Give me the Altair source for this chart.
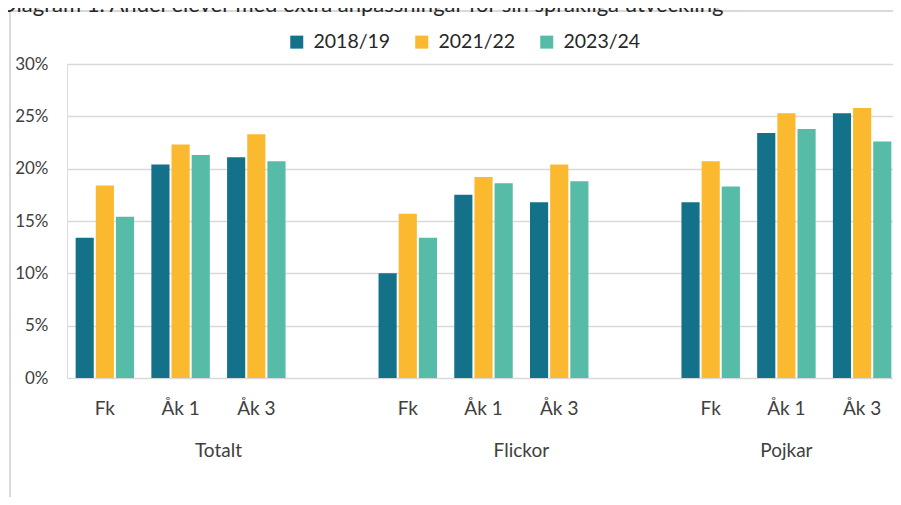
import altair as alt
import pandas as pd

# ---- data ----
title_text = "Diagram 1. Andel elever med extra anpassningar för sin språkliga utveckling"
groups = ["Totalt", "Flickor", "Pojkar"]
group_spacer = [True, True, False]          # empty category after the group
grades = ["Fk", "Åk 1", "Åk 3"]
series = ["2018/19", "2021/22", "2023/24"]
colors = ["#13728A", "#FBB92F", "#57BCA7"]

# percent, order: Totalt(Fk, Åk1, Åk3), Flickor(...), Pojkar(...)
values_2018_19 = [13.4, 20.4, 21.1, 10.0, 17.5, 16.8, 16.8, 23.4, 25.3]
values_2021_22 = [18.4, 22.3, 23.3, 15.7, 19.2, 20.4, 20.7, 25.3, 25.8]
values_2023_24 = [15.4, 21.3, 20.7, 13.4, 18.6, 18.8, 18.3, 23.8, 22.6]
y_ticks = [0, 0.05, 0.10, 0.15, 0.20, 0.25, 0.30]

# ---- build tables ----
domain = []
centers = []
for g, sp in zip(groups, group_spacer):
    start = len(domain)
    for s in grades:
        domain.append(f"{g}|{s}")
    if sp:
        domain.append(f"{g}|")
    n = len(grades) + (1 if sp else 0)
    centers.append(start + n / 2)

rows = []
for ser, vals in zip(series, [values_2018_19, values_2021_22, values_2023_24]):
    i = 0
    for g in groups:
        for s in grades:
            rows.append({"key": f"{g}|{s}", "series": ser, "value": vals[i] / 100})
            i += 1
df = pd.DataFrame(rows)
gdf = pd.DataFrame({"group": groups, "center": centers})
one = pd.DataFrame({"a": [0]})

FONT = "Lato"
TXT = "#404040"
W, H = 826, 314
XR = 833  # category range (last pixels run to the window edge)

bars = alt.Chart(df).mark_bar().encode(
    x=alt.X("key:N", sort=domain,
            scale=alt.Scale(domain=domain, range=[0, XR],
                            paddingInner=0.228, paddingOuter=0.114),
            axis=alt.Axis(title=None, labelExpr="split(datum.label, '|')[1]",
                          ticks=False, tickSize=0, domain=False, labelAngle=0,
                          labelPadding=21, labelFontSize=19, labelFont=FONT,
                          labelColor=TXT, labelOverlap=False)),
    xOffset=alt.XOffset("series:N", sort=series, scale=alt.Scale(paddingInner=0.1)),
    y=alt.Y("value:Q", scale=alt.Scale(domain=[0, 0.30], nice=False),
            axis=alt.Axis(title=None, format=".0%", values=y_ticks, grid=True,
                          gridColor="#d9d9d9", gridWidth=1.5, domain=False,
                          ticks=False, tickSize=0, labelPadding=19,
                          labelFontSize=17, labelFont=FONT, labelColor=TXT)),
    color=alt.Color("series:N", sort=series,
                    scale=alt.Scale(domain=series, range=colors),
                    legend=alt.Legend(title=None, orient="none", direction="horizontal",
                                      legendX=220, legendY=-32, symbolType="square",
                                      symbolSize=169, symbolStrokeWidth=0,
                                      labelFontSize=19.5, labelFont=FONT, labelColor="#262626",
                                      labelOffset=7, columnPadding=21)),
)

group_labels = alt.Chart(gdf).mark_text(fontSize=19, font=FONT, color=TXT,
                                        baseline="alphabetic").encode(
    x=alt.X("center:Q", scale=alt.Scale(domain=[0, len(domain)], range=[0, XR],
                                        nice=False, zero=False),
            axis=None),
    y=alt.value(393),
    text="group:N",
)

frame_left = alt.Chart(one).mark_rule(color="#d9d9d9", strokeWidth=2).encode(
    x=alt.value(-57), y=alt.value(-53), y2=alt.value(441))
frame_top = alt.Chart(one).mark_rule(color="#d9d9d9", strokeWidth=2).encode(
    x=alt.value(-57), x2=alt.value(840), y=alt.value(-53))

title = alt.Chart(one).mark_text(fontSize=22, font=FONT, color="#262626", align="left",
                                 baseline="alphabetic").encode(
    x=alt.value(-67), y=alt.value(-52), text=alt.value(title_text))

chart = alt.layer(frame_left, frame_top, title, bars, group_labels).resolve_scale(
    x="independent"
).properties(
    width=W, height=H,
    autosize=alt.AutoSizeParams(type="none"),
    padding={"left": 59, "top": 56, "right": 0, "bottom": 119},
).configure_view(stroke=None).configure(background="white")

chart.save("out.html", embed_options={"renderer": "svg", "actions": False})
